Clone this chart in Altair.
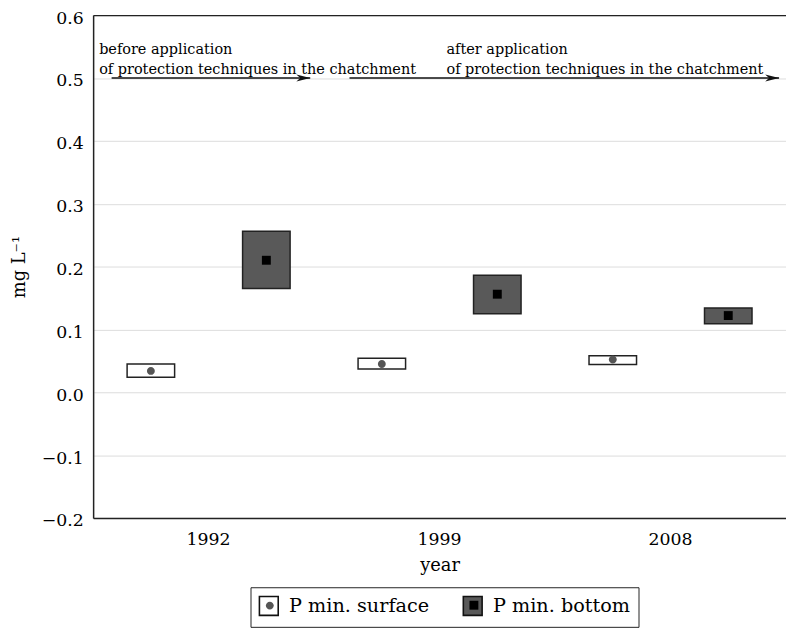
import altair as alt
import pandas as pd

# ---- data ----
years = ["1992", "1999", "2008"]
series = ["P min. surface", "P min. bottom"]
surface_low = [0.024, 0.037, 0.044]
surface_high = [0.045, 0.054, 0.058]
surface_mid = [0.034, 0.045, 0.052]
bottom_low = [0.165, 0.125, 0.109]
bottom_high = [0.256, 0.186, 0.134]
bottom_mid = [0.210, 0.156, 0.122]

y_ticks = [-0.2, -0.1, 0.0, 0.1, 0.2, 0.3, 0.4, 0.5, 0.6]

# annotations (x in category units: 1 = first year, 3 = last year)
ann_text = [
    "before application\nof protection techniques in the chatchment",
    "after application\nof protection techniques in the chatchment",
]
ann_x = [0.526, 2.03]
arrow_start = [0.58, 1.61]
arrow_end = [1.44, 3.47]
arrow_level = [0.5, 0.5]

FONT = "DejaVu Serif"

rows = []
for i, yr in enumerate(years):
    rows.append(dict(year=yr, series=series[0], low=surface_low[i], high=surface_high[i], mid=surface_mid[i]))
    rows.append(dict(year=yr, series=series[1], low=bottom_low[i], high=bottom_high[i], mid=bottom_mid[i]))
df = pd.DataFrame(rows)

ann = pd.DataFrame(dict(text=ann_text, tx=ann_x, start=arrow_start, end=arrow_end, level=arrow_level))

yscale = alt.Scale(domain=[-0.2, 0.6], nice=False, zero=False)
yaxis = alt.Axis(
    values=y_ticks, format=".1f", title="mg L⁻¹", grid=True, gridColor="#dddddd",
    tickSize=0, labelPadding=10, labelOffset=3, domainColor="#222222", domainWidth=1.5,
    labelFontSize=17.5, titleFontSize=18, titleFontWeight="normal", titlePadding=13,
    labelColor="black", titleColor="black", labelFont=FONT, titleFont=FONT,
)
xaxis = alt.Axis(
    title="year", labelAngle=0, tickSize=0, labelPadding=13, titlePadding=9,
    domainColor="#222222", domainWidth=1.5, grid=False, zindex=1,
    labelFontSize=17.5, titleFontSize=18, titleFontWeight="normal",
    labelColor="black", titleColor="black", labelFont=FONT, titleFont=FONT,
)
topaxis = alt.Axis(
    orient="top", labels=False, ticks=False, title=None, grid=False,
    domainColor="#222222", domainWidth=1.5, zindex=1,
)
xband = alt.Scale(paddingInner=0, paddingOuter=0)
offscale = alt.Scale(domain=series, paddingInner=0, paddingOuter=0)
xq = alt.Scale(domain=[0.5, 3.5], nice=False, zero=False)

common_legend = dict(
    orient="none", legendY=578, direction="horizontal", title=None,
    symbolSize=361, labelFont=FONT, labelFontSize=19.4, labelOffset=10,
    padding=8, labelLimit=400, symbolStrokeWidth=1.6,
)
legend1 = alt.Legend(
    legendX=159, columnPadding=30,
    symbolType="square", symbolStrokeColor="#111111",
    strokeColor="#222222", labelColor="black", **common_legend,
)
legend2 = alt.Legend(
    legendX=160, columnPadding=34,
    symbolStrokeColor="transparent", symbolOpacity=1, labelOpacity=0, zindex=2, **common_legend,
)

CIRCLE = "M0.42,0A0.42,0.42 0 1,1 -0.42,0A0.42,0.42 0 1,1 0.42,0Z"
SQUARE = "M-0.68,-0.68H0.68V0.68H-0.68Z"
ARROW = "M0,0L-1,-0.26L-0.72,0L-1,0.26Z"

bars = alt.Chart(df).mark_bar(width=48, stroke="#222222", strokeWidth=1.5, opacity=1).encode(
    x=alt.X("year:N", sort=years, scale=xband, axis=xaxis),
    xOffset=alt.XOffset("series:N", scale=offscale),
    y=alt.Y("low:Q", scale=yscale, axis=yaxis),
    y2="high:Q",
    fill=alt.Fill("series:N", scale=alt.Scale(domain=series, range=["white", "#595959"]), legend=legend1),
)

points = alt.Chart(df).mark_point(filled=True, opacity=1, strokeWidth=0).encode(
    x=alt.X("year:N", sort=years, scale=xband, axis=topaxis),
    xOffset=alt.XOffset("series:N", scale=offscale),
    y=alt.Y("mid:Q", scale=yscale, axis=yaxis),
    color=alt.Color("series:N", scale=alt.Scale(domain=series, range=["#555555", "black"]), legend=legend2),
    shape=alt.Shape("series:N", scale=alt.Scale(domain=series, range=[CIRCLE, SQUARE]), legend=legend2),
    size=alt.Size("series:N", scale=alt.Scale(domain=series, range=[361, 175]), legend=None),
)

rules = alt.Chart(ann).mark_rule(color="#111111", strokeWidth=1.6).encode(
    x=alt.X("start:Q", scale=xq, axis=None),
    x2="end:Q",
    y=alt.Y("level:Q", scale=yscale, axis=yaxis),
)

heads = alt.Chart(ann).mark_point(shape=ARROW, size=784, filled=True, color="#111111", opacity=1, strokeWidth=0).encode(
    x=alt.X("end:Q", scale=xq, axis=None),
    y=alt.Y("level:Q", scale=yscale, axis=yaxis),
)

texts = alt.Chart(ann).mark_text(
    align="left", baseline="alphabetic", dy=-24, font=FONT, fontSize=14.6,
    lineBreak="\n", lineHeight=19.5, color="black",
).encode(
    x=alt.X("tx:Q", scale=xq, axis=None),
    y=alt.Y("level:Q", scale=yscale, axis=yaxis),
    text="text:N",
)

chart = alt.layer(bars, points, rules, heads, texts).resolve_scale(
    x="independent", fill="independent", color="independent", shape="independent", size="independent"
).resolve_legend(
    fill="independent", color="independent", shape="independent", size="independent"
).properties(
    width=700, height=508,
    autosize=alt.AutoSizeParams(type="none"),
    padding={"left": 86, "top": 4, "right": 0, "bottom": 110},
).configure_view(stroke="transparent").configure(font=FONT)

chart.save("out.html", embed_options={"renderer": "svg", "actions": False})
